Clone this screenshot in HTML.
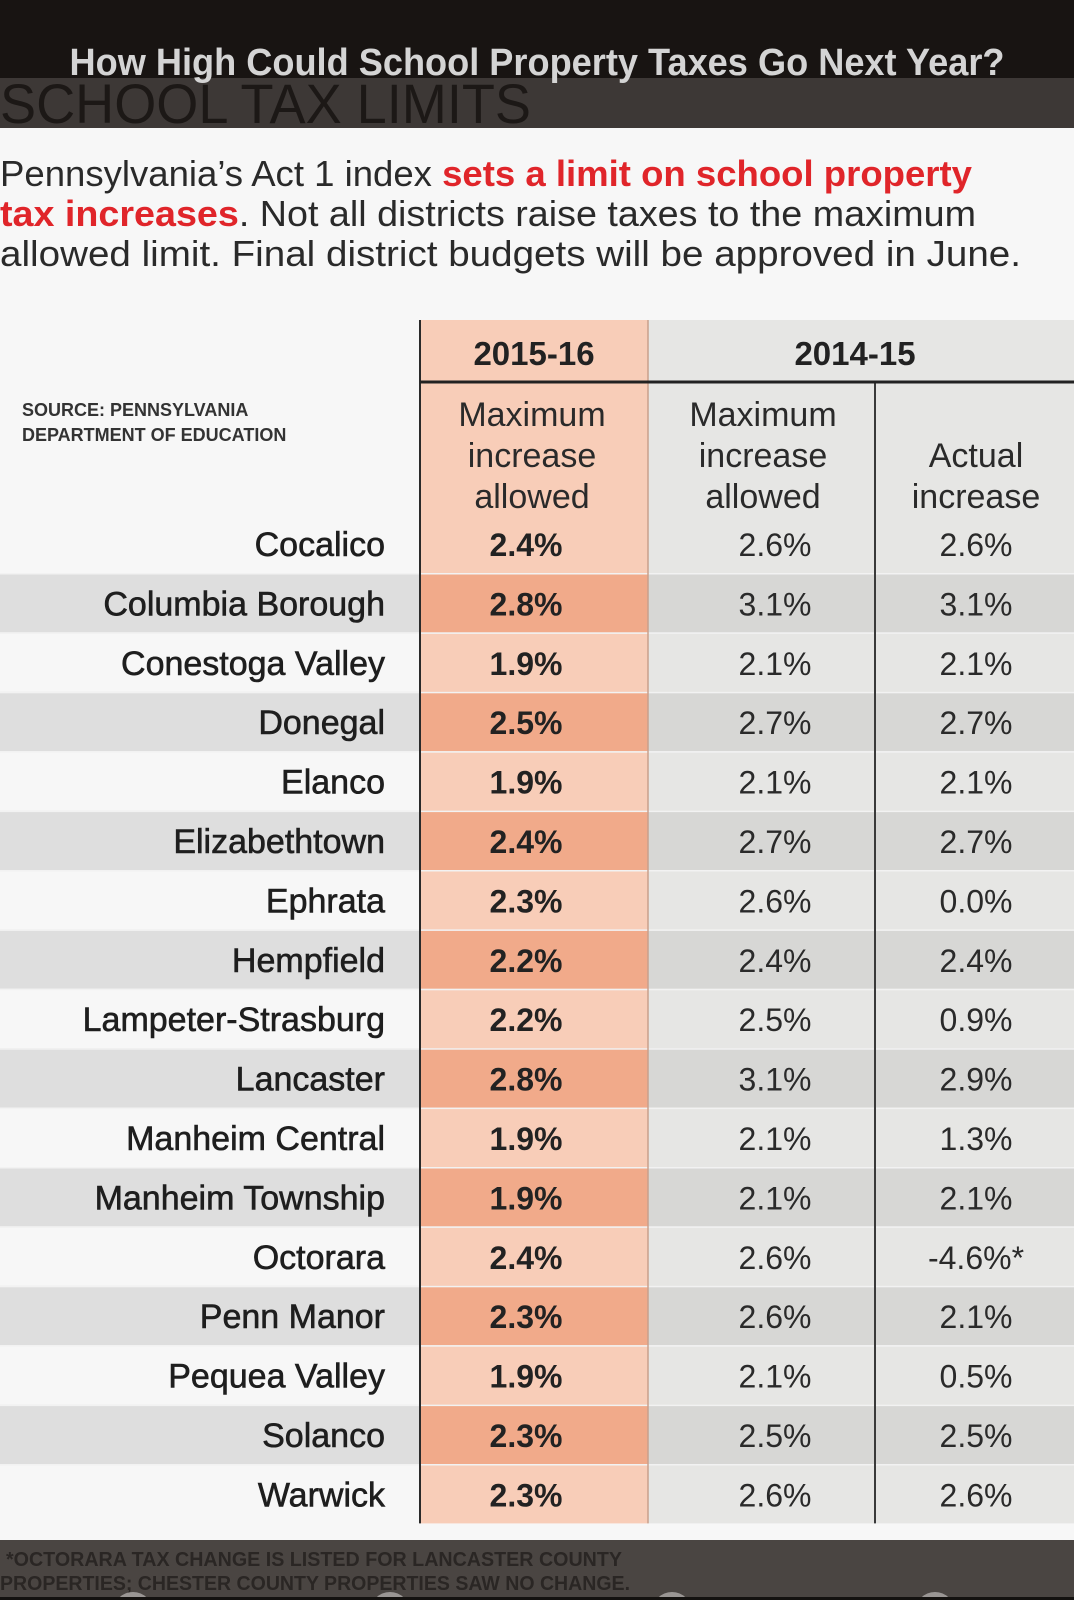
<!DOCTYPE html>
<html><head><meta charset="utf-8"><style>
html,body{margin:0;padding:0;background:#f7f7f7;}
svg{display:block;font-family:"Liberation Sans",sans-serif;}
</style></head><body>
<svg id="chart" width="1074" height="1600" viewBox="0 0 1074 1600" xmlns="http://www.w3.org/2000/svg">
<rect x="0" y="0" width="1074" height="1600" fill="#f7f7f7"/>
<rect x="0" y="0" width="1074" height="78" fill="#181412"/>
<rect x="0" y="78" width="1074" height="50" fill="#3d3836"/>
<text x="0" y="123" font-size="56" fill="#1c1816" textLength="531" lengthAdjust="spacingAndGlyphs">SCHOOL TAX LIMITS</text>
<text x="537" y="75" font-size="38" font-weight="bold" fill="#d4d4d4" text-anchor="middle" textLength="935" lengthAdjust="spacingAndGlyphs">How High Could School Property Taxes Go Next Year?</text>
<g font-size="36" fill="#2a2a2a">
<text x="0" y="186" textLength="972" lengthAdjust="spacingAndGlyphs">Pennsylvania’s Act 1 index <tspan fill="#e0252a" font-weight="bold">sets a limit on school property</tspan></text>
<text x="0" y="226" textLength="976" lengthAdjust="spacingAndGlyphs"><tspan fill="#e0252a" font-weight="bold">tax increases</tspan>. Not all districts raise taxes to the maximum</text>
<text x="0" y="266" textLength="1021" lengthAdjust="spacingAndGlyphs">allowed limit. Final district budgets will be approved in June.</text>
</g>
<g id="table"></g>
<rect x="0" y="1540" width="1074" height="60" fill="#4a4542"/>
<g font-size="20" font-weight="bold" fill="#2a2624">
<text x="6" y="1566" textLength="616" lengthAdjust="spacingAndGlyphs">*OCTORARA TAX CHANGE IS LISTED FOR LANCASTER COUNTY</text>
<text x="0" y="1590" textLength="630" lengthAdjust="spacingAndGlyphs">PROPERTIES; CHESTER COUNTY PROPERTIES SAW NO CHANGE.</text>
</g>
<g fill="#9a9694">
<circle cx="133" cy="1612" r="20"/>
<circle cx="390" cy="1612" r="20"/>
<circle cx="672" cy="1612" r="20"/>
<circle cx="935" cy="1612" r="20"/>
</g>
<rect x="0" y="1597" width="1074" height="3" fill="#141210"/>
</svg>
<script>
const districts = ["Cocalico","Columbia Borough","Conestoga Valley","Donegal","Elanco","Elizabethtown","Ephrata","Hempfield","Lampeter-Strasburg","Lancaster","Manheim Central","Manheim Township","Octorara","Penn Manor","Pequea Valley","Solanco","Warwick"];
const max1516 = [2.4,2.8,1.9,2.5,1.9,2.4,2.3,2.2,2.2,2.8,1.9,1.9,2.4,2.3,1.9,2.3,2.3];
const max1415 = [2.6,3.1,2.1,2.7,2.1,2.7,2.6,2.4,2.5,3.1,2.1,2.1,2.6,2.6,2.1,2.5,2.6];
const actual1415 = [2.6,3.1,2.1,2.7,2.1,2.7,0.0,2.4,0.9,2.9,1.3,2.1,-4.6,2.1,0.5,2.5,2.6];
const actualNotes = ["","","","","","","","","","","","","*","","","",""];

const NS = "http://www.w3.org/2000/svg";
const g = document.getElementById('table');
function el(tag, attrs, txt){ const e=document.createElementNS(NS,tag); for(const k in attrs) e.setAttribute(k,attrs[k]); if(txt!==undefined) e.textContent=txt; g.appendChild(e); return e; }
const C0=420, C1=648, C2=875, C3=1074;
const headTop=320, lineY=382, firstRowBottom=573, rowH=59.4;
function rowTop(i){ return i===0 ? lineY : firstRowBottom+(i-1)*rowH; }
function rowBottom(i){ return firstRowBottom+i*rowH; }
function fmt(v){ return v.toFixed(1)+'%'; }

let r;
r=el('rect',{x:C0,y:headTop,width:C1-C0,height:firstRowBottom-headTop,fill:'#f8cdb8'});
 
r=el('rect',{x:C1,y:headTop,width:C3-C1,height:firstRowBottom-headTop,fill:'#e6e6e4'});
 

districts.forEach((d,i)=>{
  const y0=rowTop(i), y1=rowBottom(i), dark=i%2===1;
  let e;
  if(i>0){
    e=el('rect',{x:0,y:y0,width:C0,height:y1-y0,fill:dark?'#dedede':'#f7f7f7'});
     
    e=el('rect',{x:C0,y:y0,width:C1-C0,height:y1-y0,fill:dark?'#f1aa8a':'#f8cdb8'});
     
    e=el('rect',{x:C1,y:y0,width:C3-C1,height:y1-y0,fill:dark?'#d7d7d5':'#e6e6e4'});
     
    e=el('rect',{x:0,y:y0,width:C3,height:1.5,fill:'#f2f2f2'});
     
  }
  const by=y1-17;
  e=el('text',{x:385,y:by,'font-size':34,fill:'#1e1e1e','text-anchor':'end',stroke:'#1e1e1e','stroke-width':0.6},d);
   
  e=el('text',{x:526,y:by,'font-size':32,'font-weight':'bold',fill:'#222','text-anchor':'middle'},fmt(max1516[i]));
   
  e=el('text',{x:775,y:by,'font-size':32,fill:'#2a2a2a','text-anchor':'middle'},fmt(max1415[i]));
   
  e=el('text',{x:976,y:by,'font-size':32,fill:'#2a2a2a','text-anchor':'middle'},fmt(actual1415[i])+actualNotes[i]);
   
});

const tableBottom=rowBottom(districts.length-1);
let t;
t=el('line',{x1:C0,y1:headTop,x2:C0,y2:tableBottom,stroke:'#2a2a2a','stroke-width':2});
 
t=el('line',{x1:C1,y1:headTop,x2:C1,y2:tableBottom,stroke:'#c9a08c','stroke-width':1.5});
 
t=el('line',{x1:C2,y1:lineY,x2:C2,y2:tableBottom,stroke:'#3a3a3a','stroke-width':2});
 
t=el('line',{x1:C0,y1:lineY,x2:C3,y2:lineY,stroke:'#222','stroke-width':3});
 

t=el('text',{x:534,y:365,'font-size':33,'font-weight':'bold',fill:'#222','text-anchor':'middle'},'2015-16');
 
t=el('text',{x:855,y:365,'font-size':33,'font-weight':'bold',fill:'#222','text-anchor':'middle'},'2014-15');
 
const sub=[[532,['Maximum','increase','allowed'],426],[763,['Maximum','increase','allowed'],426],[976,['Actual','increase'],467]];
sub.forEach(s=>{ s[1].forEach((w,k)=>{
  const e=el('text',{x:s[0],y:s[2]+k*41,'font-size':34,fill:'#2a2a2a','text-anchor':'middle'},w);
   
});});
t=el('text',{x:22,y:416,'font-size':18,'font-weight':'bold',fill:'#333'},'SOURCE: PENNSYLVANIA');
 
t=el('text',{x:22,y:441,'font-size':18,'font-weight':'bold',fill:'#333'},'DEPARTMENT OF EDUCATION');
 
</script>
</body></html>
